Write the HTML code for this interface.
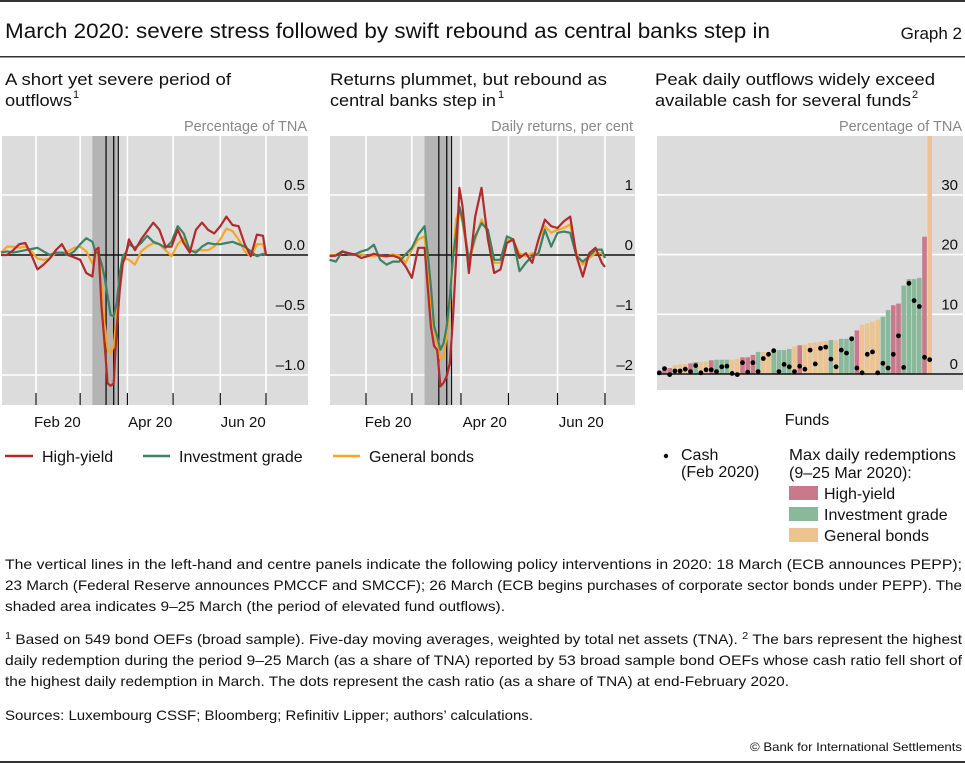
<!DOCTYPE html>
<html><head><meta charset="utf-8">
<style>
html,body{margin:0;padding:0;background:#fff;}
svg{display:block;font-family:"Liberation Sans",sans-serif;}
</style></head>
<body>
<svg id="chart" width="965" height="763" viewBox="0 0 965 763" xmlns="http://www.w3.org/2000/svg">
<rect x="0" y="0" width="965" height="2" fill="#333"/>
<text x="5" y="38" font-size="21" fill="#111" textLength="765" lengthAdjust="spacingAndGlyphs">March 2020: severe stress followed by swift rebound as central banks step in</text>
<text x="962" y="39" font-size="17" fill="#111" text-anchor="end">Graph 2</text>
<rect x="0" y="56" width="965" height="1.5" fill="#333"/>

<g font-size="17" fill="#111">
<text x="5" y="85" textLength="226" lengthAdjust="spacingAndGlyphs">A short yet severe period of</text>
<text x="5" y="106" textLength="67" lengthAdjust="spacingAndGlyphs">outflows</text><text x="73" y="98" font-size="11">1</text>
<text x="330" y="85" textLength="277" lengthAdjust="spacingAndGlyphs">Returns plummet, but rebound as</text>
<text x="330" y="106" textLength="166" lengthAdjust="spacingAndGlyphs">central banks step in</text><text x="498" y="98" font-size="11">1</text>
<text x="655" y="85" textLength="280" lengthAdjust="spacingAndGlyphs">Peak daily outflows widely exceed</text>
<text x="655" y="106" textLength="256" lengthAdjust="spacingAndGlyphs">available cash for several funds</text><text x="912" y="98" font-size="11">2</text>
</g>
<g font-size="14.5" fill="#888">
<text x="307" y="131" text-anchor="end">Percentage of TNA</text>
<text x="633" y="131" text-anchor="end">Daily returns, per cent</text>
<text x="962" y="131" text-anchor="end">Percentage of TNA</text>
</g>
<g id="p1"></g>
<g id="p2"></g>
<g id="p3"></g>

<g font-size="16" fill="#111">
<line x1="5" y1="456" x2="33" y2="456" stroke="#b22a2a" stroke-width="2.5"/>
<text x="42" y="462">High-yield</text>
<line x1="143" y1="456" x2="170" y2="456" stroke="#3c8264" stroke-width="2.5"/>
<text x="179" y="462">Investment grade</text>
<line x1="333" y1="456" x2="360" y2="456" stroke="#f5a623" stroke-width="2.5"/>
<text x="369" y="462">General bonds</text>
</g>
<g font-size="16" fill="#111">
<circle cx="666" cy="456" r="2.2" fill="#111"/>
<text x="681" y="460">Cash</text>
<text x="681" y="477">(Feb 2020)</text>
<text x="789" y="460" textLength="167" lengthAdjust="spacingAndGlyphs">Max daily redemptions</text>
<text x="789" y="478">(9–25 Mar 2020):</text>
<rect x="789" y="486" width="29" height="14" fill="#c9798b"/>
<text x="824" y="499">High-yield</text>
<rect x="789" y="507" width="29" height="14" fill="#8ab89b"/>
<text x="824" y="520">Investment grade</text>
<rect x="789" y="528" width="29" height="14" fill="#ecc48f"/>
<text x="824" y="541">General bonds</text>
</g>

<g font-size="14" fill="#111">
<text x="5" y="569" textLength="957" lengthAdjust="spacingAndGlyphs">The vertical lines in the left-hand and centre panels indicate the following policy interventions in 2020: 18 March (ECB announces PEPP);</text>
<text x="5" y="590" textLength="957" lengthAdjust="spacingAndGlyphs">23 March (Federal Reserve announces PMCCF and SMCCF); 26 March (ECB begins purchases of corporate sector bonds under PEPP). The</text>
<text x="5" y="611" textLength="500" lengthAdjust="spacingAndGlyphs">shaded area indicates 9–25 March (the period of elevated fund outflows).</text>
<text x="5" y="644" textLength="957" lengthAdjust="spacingAndGlyphs"><tspan font-size="10" dy="-5">1</tspan><tspan dy="5">  Based on 549 bond OEFs (broad sample). Five-day moving averages, weighted by total net assets (TNA).    </tspan><tspan font-size="10" dy="-5">2</tspan><tspan dy="5">  The bars represent the highest</tspan></text>
<text x="5" y="665" textLength="957" lengthAdjust="spacingAndGlyphs">daily redemption during the period 9–25 March (as a share of TNA) reported by 53 broad sample bond OEFs whose cash ratio fell short of</text>
<text x="5" y="686" textLength="784" lengthAdjust="spacingAndGlyphs">the highest daily redemption in March. The dots represent the cash ratio (as a share of TNA) at end-February 2020.</text>
<text x="5" y="720" textLength="528" lengthAdjust="spacingAndGlyphs">Sources: Luxembourg CSSF; Bloomberg; Refinitiv Lipper; authors’ calculations.</text>
<text x="962" y="751" font-size="12" text-anchor="end" textLength="212" lengthAdjust="spacingAndGlyphs">© Bank for International Settlements</text>
</g>
<rect x="0" y="761" width="965" height="2" fill="#333"/>
</svg>
<script>
// Shared day axis (days since 1 Jan 2020)
const days = [8,12,16,20,24,28,32,36,40,44,48,52,56,60,64,68,70,72,74,76,78,80,82,84,86,88,90,92,96,100,104,108,112,116,120,124,128,132,136,140,144,148,152,156,160,164,168,172,176,180,182];
const monthStarts = [31,60,91,121,152,182];
const monthLabels = ["Feb 20","Apr 20","Jun 20"];
const monthLabelDays = [45,106,167];
const policyDays = [77,82,85];
const shadeDays = [68,84];

// Panel 1: outflows, % of TNA
const outHY = [0,0,.04,.09,.10,0,-.12,-.08,-.03,.04,.09,0,-.02,-.04,-.15,-.18,.04,.06,-.43,-.73,-1.07,-1.09,-1.07,-.62,-.29,-.07,0,.13,.04,.13,.2,.27,.21,.07,.07,.21,.1,.02,.21,.27,.21,.18,.24,.32,.25,.24,.09,-.01,.17,.16,0];
const outIG = [.02,.03,.02,.03,.04,.05,.06,.03,0,.02,.02,0,.03,.09,.14,.11,.03,.01,-.07,-.18,-.34,-.5,-.51,-.4,-.15,-.01,.02,.09,.06,.1,.16,.11,.09,.06,.11,.24,.18,.04,.02,.07,.1,.09,.09,.1,.11,.09,.07,.03,-.01,.01,0];
const outGB = [.02,.07,.07,.06,.07,.03,-.03,-.04,-.03,.02,.02,.03,.06,.07,.03,-.07,-.01,.02,-.26,-.57,-.79,-.82,-.76,-.51,-.26,-.05,-.03,-.04,-.08,.03,.07,.1,.09,.04,-.01,.09,.14,.03,.04,.04,.04,.07,.13,.22,.2,.13,.03,-.01,.09,.09,0];
const p1Ticks = [0.5,0,-0.5,-1.0];
const p1TickLabels = ["0.5","0.0","–0.5","–1.0"];

// Panel 2: daily returns, per cent
const retHY = [-.02,-.01,.06,.03,.01,-.05,-.02,.02,-.01,-.02,-.01,-.05,-.19,-.38,.12,.12,-.52,-1.19,-1.52,-1.58,-2.19,-2.13,-2.02,-1.8,-1.02,-.02,1.12,.81,-.3,.64,1.12,.26,-.3,-.24,.2,.26,-.05,.03,-.13,.26,.59,.48,.45,.56,.64,-.02,-.36,.03,.12,-.13,-.2];
const retIG = [-.08,-.11,.06,.01,.01,.06,.09,.17,-.08,-.16,-.11,-.11,.01,.12,.34,.48,.03,-.52,-1.19,-1.36,-1.58,-1.47,-1.19,-.69,-.02,.37,.81,.59,-.08,.31,.53,.42,-.08,-.08,.31,.26,-.27,-.13,-.02,.03,.42,.14,.37,.39,.37,-.02,-.11,-.02,.09,.09,-.05];
const retGB = [-.01,0,.06,.03,.01,.01,-.02,-.01,-.01,-.03,.01,-.01,-.13,.09,.26,.31,-.3,-.91,-1.24,-1.47,-1.74,-1.69,-1.36,-.8,.03,.59,.78,.53,-.13,.26,.59,.37,-.13,-.13,.26,.23,.03,-.02,.03,.01,.48,.37,.42,.45,.51,.03,-.16,-.05,.03,.03,-.05];
const p2Ticks = [1,0,-1,-2];
const p2TickLabels = ["1","0","–1","–2"];

// Panel 3: max daily redemptions and cash, % of TNA
const fundType = ["P","P","P","O","O","O","P","G","O","O","P","G","G","G","O","O","P","P","P","G","O","O","G","G","G","G","O","P","O","O","O","O","O","G","O","G","G","G","P","O","O","O","O","G","G","P","P","G","G","G","G","P","O"];
const redemptions = [0.3,1.0,1.0,1.5,1.6,1.7,1.8,2.0,2.0,2.1,2.3,2.4,2.4,2.4,2.4,2.5,2.8,2.8,3.2,3.7,3.7,3.7,4.0,4.0,4.0,4.2,4.6,4.8,4.9,5.2,5.3,5.4,5.5,5.7,5.7,5.9,5.9,6.3,7.3,8.2,8.5,8.8,9.1,9.6,10.7,11.5,11.8,14.8,15.9,15.9,16.1,23.0,39.9];
const cash = [0.2,0.9,-0.1,0.5,0.5,0.8,0.4,1.4,0.2,0.7,0.7,0.4,1.2,1.3,0.1,-0.1,1.9,0.3,1.9,0.4,2.6,3.3,3.9,0.4,1.6,1.2,0.4,1.3,0.8,4.0,1.7,4.3,4.5,2.5,1.2,4.0,3.5,5.9,1.0,0.2,3.3,3.7,0.2,1.8,1.0,3.3,6.4,1.1,15.2,12.3,11.3,2.8,2.4];
const p3Ticks = [30,20,10,0];
const p3TickLabels = ["30","20","10","0"];

const NS = "http://www.w3.org/2000/svg";
function mk(parent, tag, attrs){ const e=document.createElementNS(NS,tag); for(const k in attrs) e.setAttribute(k,attrs[k]); parent.appendChild(e); return e; }

function linePanel(g, x0, x1, top, bottom, xDay, yVal, ticks, tickLabels, series, labelRight, prefix){
  const bg = mk(g,'rect',{x:x0,y:top,width:x1-x0,height:bottom-top,fill:'#dcdcdc'});
  
  
  monthStarts.forEach(d=>{
    const gl = mk(g,'line',{x1:xDay(d),x2:xDay(d),y1:top,y2:bottom,stroke:'#fff','stroke-width':1.6});
    
    
  });
  ticks.forEach((t,i)=>{
    if(t!==0){
      const hl = mk(g,'line',{x1:x0,x2:x1,y1:yVal(t),y2:yVal(t),stroke:'#fff','stroke-width':1.6});
      
      
    }
  });
  const sh = mk(g,'rect',{x:xDay(shadeDays[0]),y:top,width:xDay(shadeDays[1])-xDay(shadeDays[0]),height:bottom-top,fill:'#b4b4b4'});
  
  
  policyDays.forEach(d=>{
    const pl = mk(g,'line',{x1:xDay(d),x2:xDay(d),y1:top,y2:bottom,stroke:'#111','stroke-width':1.3});
    
    
  });
  const zl = mk(g,'line',{x1:x0,x2:x1,y1:yVal(0),y2:yVal(0),stroke:'#111','stroke-width':1.5});
  
  
  monthStarts.forEach(d=>{
    const tk = mk(g,'line',{x1:xDay(d),x2:xDay(d),y1:bottom-12,y2:bottom,stroke:'#111','stroke-width':1.2});
    
    
  });
  ticks.forEach((t,i)=>{
    const tl = mk(g,'text',{x:labelRight,y:yVal(t)-5,'text-anchor':'end','font-size':15,fill:'#111'});
    tl.textContent = tickLabels[i];
    
    
  });
  monthLabelDays.forEach((d,i)=>{
    const ml = mk(g,'text',{x:xDay(d),y:427,'text-anchor':'middle','font-size':15,fill:'#111'});
    ml.textContent = monthLabels[i];
    
    
  });
  series.forEach(s=>{
    const pts = days.map((d,i)=>xDay(d).toFixed(1)+','+yVal(s.v[i]).toFixed(1)).join(' ');
    const pl = mk(g,'polyline',{points:pts,fill:'none',stroke:s.c,'stroke-width':2.2,'stroke-linejoin':'round'});
    
    
  });
}

linePanel(document.getElementById('p1'), 2, 308, 136, 405,
  d=>36+(d-31)*230/151, v=>255-v*120, p1Ticks, p1TickLabels,
  [{v:outGB,c:'#f5a623',n:'general-bonds'},{v:outIG,c:'#3c8264',n:'investment-grade'},{v:outHY,c:'#b22a2a',n:'high-yield'}], 305, 'outflows');
linePanel(document.getElementById('p2'), 330, 635, 136, 405,
  d=>366+(d-31)*239/151, v=>255-v*60, p2Ticks, p2TickLabels,
  [{v:retGB,c:'#f5a623',n:'general-bonds'},{v:retIG,c:'#3c8264',n:'investment-grade'},{v:retHY,c:'#b22a2a',n:'high-yield'}], 633, 'returns');

(function(){
  const g = document.getElementById('p3');
  const x0=657, x1=963, top=136, bottom=390;
  const y = v=>374-v*5.97;
  const slot = 5.2;
  const colors = {P:'#c9798b',G:'#8ab89b',O:'#ecc48f'};
  const bg = mk(g,'rect',{x:x0,y:top,width:x1-x0,height:bottom-top,fill:'#dcdcdc'});
  
  
  p3Ticks.forEach((t,i)=>{
    if(t!==0){
      const hl = mk(g,'line',{x1:x0,x2:x1,y1:y(t),y2:y(t),stroke:'#fff','stroke-width':1.6});
      
      
    }
    const tl = mk(g,'text',{x:958,y:y(t)-5,'text-anchor':'end','font-size':15,fill:'#111'});
    tl.textContent = p3TickLabels[i];
    
    
  });
  redemptions.forEach((v,i)=>{
    const yt = Math.max(top, y(v));
    const b = mk(g,'rect',{x:(x0+i*slot).toFixed(1),y:yt.toFixed(1),width:slot-0.6,height:(y(0)-yt).toFixed(1),fill:colors[fundType[i]]});
    
    
  });
  const zl = mk(g,'line',{x1:x0,x2:x1,y1:y(0),y2:y(0),stroke:'#111','stroke-width':1.5});
  
  
  cash.forEach((v,i)=>{
    const c = mk(g,'circle',{cx:(x0+i*slot+slot/2-0.3).toFixed(1),cy:y(v).toFixed(1),r:2.4,fill:'#000'});
    
    
  });
  const fl = mk(g,'text',{x:807,y:425,'text-anchor':'middle','font-size':16,fill:'#111'});
  fl.textContent = 'Funds';
  
  
})();
</script>
</body></html>
